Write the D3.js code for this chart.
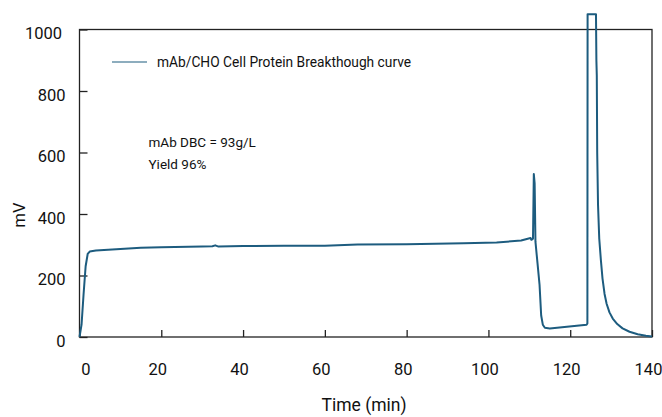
<!DOCTYPE html>
<html>
<head>
<meta charset="utf-8">
<script src="https://cdn.jsdelivr.net/npm/d3@7"></script>
<style>
  html, body { margin: 0; padding: 0; background: #fff; }
  svg text { font-family: Roboto, "Liberation Sans", sans-serif; fill: #111; }
</style>
</head>
<body>
<svg id="chart" width="662" height="417"></svg>
<script>
// ---- Data ----
const timeMin = [0, 0.5, 1.0, 1.5, 2.0, 2.5, 4, 6, 10, 15, 20, 30, 32.5, 33.2, 34, 40, 50, 60, 68, 80, 94, 102, 108, 110.3, 110.5, 110.9, 111.1, 111.3, 111.5, 112.0, 112.5, 112.9, 113.3, 113.8, 115, 118, 121, 124.0, 124.2, 124.25, 126.3, 126.4, 126.5, 126.6, 126.8, 127.1, 127.5, 127.9, 128.4, 128.9, 129.6, 130.4, 131.5, 132.8, 134.5, 136.5, 138.5, 140];
const signalMV = [0, 40, 140, 230, 270, 278, 281, 283, 286, 290, 292, 294, 295, 298, 294, 296, 297, 297, 301, 302, 305, 307, 314, 322, 316, 320, 530, 500, 310, 240, 170, 70, 40, 30, 28, 32, 36, 40, 44, 1050, 1050, 900, 850, 600, 430, 320, 250, 190, 140, 108, 80, 60, 42, 28, 17, 9, 4, 2];
const xTicks = [0, 20, 40, 60, 80, 100, 120, 140];
const yTicks = [0, 200, 400, 600, 800, 1000];
const seriesName = "mAb/CHO Cell Protein Breakthough curve";
const notes = ["mAb DBC = 93g/L", "Yield 96%"];
const xTitle = "Time (min)";
const yTitle = "mV";

// ---- Layout ----
const svg = d3.select("#chart");
const L = 79.5, R = 652, T = 29.5, B = 337;
const lineColor = "#1d5c7f";

const x = d3.scaleLinear().domain([0, 140]).range([L, R]);
const y = d3.scaleLinear().domain([0, 1000]).range([B, T]);

// frame
svg.append("rect").attr("x", L).attr("y", T).attr("width", R - L).attr("height", B - T)
  .attr("fill", "none").attr("stroke", "#222").attr("stroke-width", 1.3);

// x axis
const xAxis = svg.append("g").attr("transform", `translate(0,${B})`)
  .call(d3.axisBottom(x).tickValues(xTicks).tickSize(-7).tickPadding(0).tickFormat(d3.format("d")));
xAxis.select(".domain").remove();
xAxis.selectAll(".tick line").attr("stroke", "#222").attr("stroke-width", 1.3);
xAxis.selectAll(".tick text").attr("font-size", 16.5).attr("y", 38)
  .attr("dx", d => d === 0 ? 6 : -4).attr("dy", 0);

// y axis
const yAxis = svg.append("g").attr("transform", `translate(${L},0)`)
  .call(d3.axisLeft(y).tickValues(yTicks).tickSize(-8).tickPadding(0).tickFormat(d3.format("d")));
yAxis.select(".domain").remove();
yAxis.selectAll(".tick line").attr("stroke", "#222").attr("stroke-width", 1.3);
yAxis.selectAll(".tick text").attr("font-size", 16.5).attr("x", d => d === 1000 ? -17.5 : -14)
  .attr("dy", "0.55em");

// axis titles
svg.append("text").attr("x", 364).attr("y", 411).attr("text-anchor", "middle")
  .attr("font-size", 17.5).text(xTitle);
svg.append("text").attr("transform", "translate(25,215) rotate(-90)").attr("text-anchor", "middle")
  .attr("font-size", 16.5).text(yTitle);

// series line
const pts = timeMin.map((t, i) => [t, signalMV[i]]);
svg.append("path").datum(pts)
  .attr("fill", "none").attr("stroke", lineColor).attr("stroke-width", 2)
  .attr("stroke-linejoin", "round")
  .attr("d", d3.line().x(d => x(d[0])).y(d => y(d[1])));

// legend
svg.append("line").attr("x1", 112).attr("x2", 147).attr("y1", 62).attr("y2", 62)
  .attr("stroke", lineColor).attr("stroke-width", 1.2);
svg.append("text").attr("x", 157).attr("y", 66.5).attr("font-size", 13.75).text(seriesName);

// notes
svg.selectAll("text.note").data(notes).join("text").attr("class", "note")
  .attr("x", 148.5).attr("y", (d, i) => 147 + i * 22).attr("font-size", 13.5).text(d => d);
</script>
</body>
</html>
